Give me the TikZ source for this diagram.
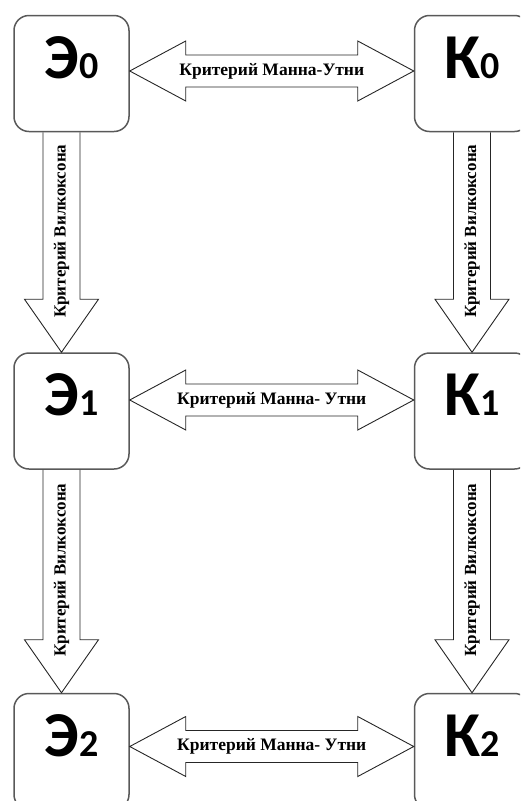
\documentclass[tikz,border=0pt]{standalone}
\usepackage{fontspec}
\setmainfont{Liberation Serif}
\newfontfamily\grpfont{Carlito}
\usetikzlibrary{positioning}
\usetikzlibrary{calc}
\definecolor{boxgray}{RGB}{89,89,89}

\newcommand{\grpidx}[1]{{\fontsize{38}{38}\selectfont #1}}
%% horizontal block arrow: from, to, raise, text
\newcommand{\hblock}[4]{%
  \draw[blk] let \p1=([yshift=#3]#1.east), \p2=([yshift=#3]#2.west) in
    (\p1) -- (\x1+56pt,\y1+30pt) -- (\x1+56pt,\y1+16pt) -- (\x2-56pt,\y1+16pt) -- (\x2-56pt,\y1+30pt) -- (\x2,\y1)
    -- (\x2-56pt,\y1-30pt) -- (\x2-56pt,\y1-16pt) -- (\x1+56pt,\y1-16pt) -- (\x1+56pt,\y1-30pt) -- cycle;
  \node[hlab] at ($([yshift=#3]#1.east)!0.5!([yshift=#3]#2.west)$) {#4};}
%% vertical block arrow: from, to, shift, text
\newcommand{\vblock}[4]{%
  \draw[blk] let \p1=([xshift=#3]#1.south), \p2=([xshift=#3]#2.north) in
    (\x1-18.5pt,\y1) -- (\x1-18.5pt,\y2+53pt) -- (\x1-37pt,\y2+53pt) -- (\x1,\y2)
    -- (\x1+37pt,\y2+53pt) -- (\x1+18.5pt,\y2+53pt) -- (\x1+18.5pt,\y1);
  \node[vlab] at ($([xshift=#3]#1.south)!0.45!([xshift=#3]#2.north)$) {#4};}

\begin{document}
\begin{tikzpicture}[x=1pt, y=-1pt, font=\bfseries]%
  \tikzstyle{grp} = [rectangle, rounded corners=15pt, draw=boxgray, line width=1.5pt, minimum width=115pt, minimum height=116pt, inner sep=0pt, text depth=32pt, font=\grpfont\bfseries\fontsize{64}{64}\selectfont]
  \tikzstyle{blk} = [draw=black!85, line width=0.9pt, line join=miter]
  \tikzstyle{hlab} = [font=\bfseries\fontsize{17.5}{17.5}\selectfont, inner sep=0pt]
  \tikzstyle{vlab} = [font=\bfseries\fontsize{17}{17}\selectfont, inner sep=0pt, rotate=90]
  %%
  \useasboundingbox (0,0) rectangle (520,801);
  \clip (0,0) rectangle (520,801);
  \begin{scope}[node distance = 220pt and 284pt]%
    %% groups
    \node [grp] (e0) at (71.5,73.5) {Э\grpidx{0}};
    \node [grp] (k0) [right = of e0] {К\grpidx{0}};
    \node [grp] (e1) [below = of e0] {Э\grpidx{1}};
    \node [grp] (k1) [right = of e1] {К\grpidx{1}};
    \node [grp] (e2) [below = 223pt of e1] {Э\grpidx{2}};
    \node [grp] (k2) [right = of e2] {К\grpidx{2}};

    %% Mann-Whitney
    \hblock{e0}{k0}{2.5pt}{Критерий Манна-Утни}
    \hblock{e1}{k1}{11pt}{Критерий Манна- Утни}
    \hblock{e2}{k2}{5pt}{Критерий Манна- Утни}

    %% Wilcoxon
    \vblock{e0}{e1}{-10pt}{Критерий Вилкоксона}
    \vblock{k0}{k1}{0pt}{Критерий Вилкоксона}
    \vblock{e1}{e2}{-10pt}{Критерий Вилкоксона}
    \vblock{k1}{k2}{0pt}{Критерий Вилкоксона}
  \end{scope}%
\end{tikzpicture}
\end{document}
